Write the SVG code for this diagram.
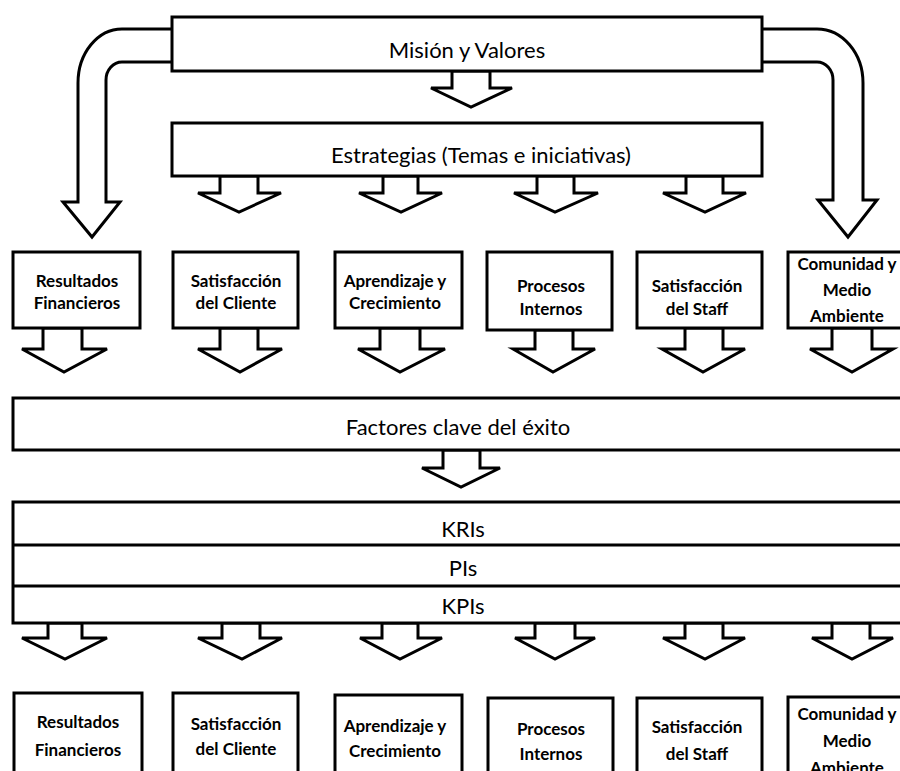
<svg xmlns="http://www.w3.org/2000/svg" width="900" height="771" viewBox="0 0 900 771">
  <style>
    .box { fill: #ffffff; stroke: #000000; stroke-width: 3; }
    .arr { fill: #ffffff; stroke: #000000; stroke-width: 3; stroke-linejoin: miter; }
    .band { font-family: Lato, "Open Sans", "Liberation Sans", sans-serif; font-size: 22px; fill: #000000; text-anchor: middle; }
    .lbl { font-family: Lato, "Open Sans", "Liberation Sans", sans-serif; font-size: 17px; font-weight: bold; fill: #000000; text-anchor: middle; }
  </style>
  <rect width="900" height="771" fill="#ffffff"/>

  <!-- connectors: block arrows -->
  <g id="connectors">
    <!-- curved arrow to Resultados Financieros -->
    <path class="arr" d="M172 29 L122 29 A44 54 0 0 0 78 83 L78 202 L63 202 L92 237 L120 202 L106 202 L106 80 A16 18 0 0 1 122 62 L172 62"/>
    <!-- curved arrow to Comunidad y Medio Ambiente -->
    <path class="arr" d="M762 29 L817 29 A46 54 0 0 1 863 83 L863 200 L877 200 L848 237 L818 200 L833 200 L833 80 A16 18 0 0 0 817 62 L762 62"/>
    <!-- Misión -> Estrategias -->
    <polygon class="arr" points="452,71 452,88 431,88 471,107 512,88 490,88 490,71"/>
    <!-- Estrategias -> perspectives -->
    <polygon class="arr" points="220,176 220,193 198,193 239,212 281,193 258,193 258,176"/>
    <polygon class="arr" points="383,176 383,193 359,193 401,212 442,193 418,193 418,176"/>
    <polygon class="arr" points="537,176 537,193 514,193 555,212 598,193 574,193 574,176"/>
    <polygon class="arr" points="686,176 686,193 663,193 705,212 746,193 723,193 723,176"/>
    <!-- perspectives -> Factores clave -->
    <polygon class="arr" points="43,328 43,349 22,349 64,372 107,349 82,349 82,328"/>
    <polygon class="arr" points="220,328 220,349 198,349 240,372 282,349 258,349 258,328"/>
    <polygon class="arr" points="380,328 380,349 358,349 400,372 445,349 420,349 420,328"/>
    <polygon class="arr" points="535,330 535,349 513,349 553,372 595,349 573,349 573,330"/>
    <polygon class="arr" points="685,328 685,349 662,349 703,372 745,349 723,349 723,328"/>
    <polygon class="arr" points="832,328 832,349 810,349 852,372 893,349 872,349 872,328"/>
    <!-- Factores clave -> indicators -->
    <polygon class="arr" points="443,450 443,468 422,468 461,487 500,468 480,468 480,450"/>
    <!-- indicators -> perspectives -->
    <polygon class="arr" points="48,623 48,638 22,638 65,659 107,638 82,638 82,623"/>
    <polygon class="arr" points="222,623 222,638 198,638 242,659 282,638 260,638 260,623"/>
    <polygon class="arr" points="382,623 382,638 360,638 400,659 442,638 418,638 418,623"/>
    <polygon class="arr" points="535,623 535,638 515,638 555,659 595,638 575,638 575,623"/>
    <polygon class="arr" points="685,623 685,638 663,638 705,659 745,638 723,638 723,623"/>
    <polygon class="arr" points="832,623 832,638 812,638 852,659 893,638 870,638 870,623"/>
  </g>

  <!-- top bands -->
  <g id="mision">
    <rect class="box" x="172" y="17" width="590" height="54"/>
    <text class="band" x="467" y="58">Misión y Valores</text>
  </g>
  <g id="estrategias">
    <rect class="box" x="172" y="123" width="590" height="53"/>
    <text class="band" x="481" y="163">Estrategias (Temas e iniciativas)</text>
  </g>

  <!-- first row of perspectives -->
  <g id="p1-financieros">
    <rect class="box" x="13" y="252" width="127" height="76"/>
    <text class="lbl" x="77" y="287">Resultados</text>
    <text class="lbl" x="77" y="309">Financieros</text>
  </g>
  <g id="p1-cliente">
    <rect class="box" x="173" y="252" width="125" height="76"/>
    <text class="lbl" x="236" y="287">Satisfacción</text>
    <text class="lbl" x="236" y="309">del Cliente</text>
  </g>
  <g id="p1-aprendizaje">
    <rect class="box" x="335" y="252" width="127" height="76"/>
    <text class="lbl" x="395" y="287">Aprendizaje y</text>
    <text class="lbl" x="395" y="309">Crecimiento</text>
  </g>
  <g id="p1-procesos">
    <rect class="box" x="487" y="252" width="125" height="78"/>
    <text class="lbl" x="551" y="292">Procesos</text>
    <text class="lbl" x="551" y="315">Internos</text>
  </g>
  <g id="p1-staff">
    <rect class="box" x="637" y="252" width="125" height="76"/>
    <text class="lbl" x="697" y="292">Satisfacción</text>
    <text class="lbl" x="697" y="315">del Staff</text>
  </g>
  <g id="p1-comunidad">
    <rect class="box" x="788" y="252" width="125" height="76"/>
    <text class="lbl" x="847" y="270">Comunidad y</text>
    <text class="lbl" x="847" y="296">Medio</text>
    <text class="lbl" x="847" y="322">Ambiente</text>
  </g>

  <!-- key success factors -->
  <g id="factores">
    <rect class="box" x="13" y="398" width="900" height="52"/>
    <text class="band" x="458" y="435">Factores clave del éxito</text>
  </g>

  <!-- indicator bands -->
  <g id="indicadores">
    <rect class="box" x="13" y="502" width="900" height="121"/>
    <line x1="13" y1="545" x2="900" y2="545" stroke="#000000" stroke-width="3"/>
    <line x1="13" y1="586" x2="900" y2="586" stroke="#000000" stroke-width="3"/>
    <text class="band" x="463" y="537">KRIs</text>
    <text class="band" x="463" y="576">PIs</text>
    <text class="band" x="463" y="614">KPIs</text>
  </g>

  <!-- second row of perspectives -->
  <g id="p2-financieros">
    <rect class="box" x="14" y="693" width="128" height="100"/>
    <text class="lbl" x="78" y="728">Resultados</text>
    <text class="lbl" x="78" y="756">Financieros</text>
  </g>
  <g id="p2-cliente">
    <rect class="box" x="173" y="693" width="125" height="100"/>
    <text class="lbl" x="236" y="730">Satisfacción</text>
    <text class="lbl" x="236" y="755">del Cliente</text>
  </g>
  <g id="p2-aprendizaje">
    <rect class="box" x="335" y="695" width="127" height="100"/>
    <text class="lbl" x="395" y="732">Aprendizaje y</text>
    <text class="lbl" x="395" y="757">Crecimiento</text>
  </g>
  <g id="p2-procesos">
    <rect class="box" x="488" y="698" width="125" height="100"/>
    <text class="lbl" x="551" y="735">Procesos</text>
    <text class="lbl" x="551" y="760">Internos</text>
  </g>
  <g id="p2-staff">
    <rect class="box" x="637" y="698" width="125" height="100"/>
    <text class="lbl" x="697" y="733">Satisfacción</text>
    <text class="lbl" x="697" y="760">del Staff</text>
  </g>
  <g id="p2-comunidad">
    <rect class="box" x="788" y="697" width="125" height="100"/>
    <text class="lbl" x="847" y="720">Comunidad y</text>
    <text class="lbl" x="847" y="747">Medio</text>
    <text class="lbl" x="847" y="774">Ambiente</text>
  </g>
</svg>
